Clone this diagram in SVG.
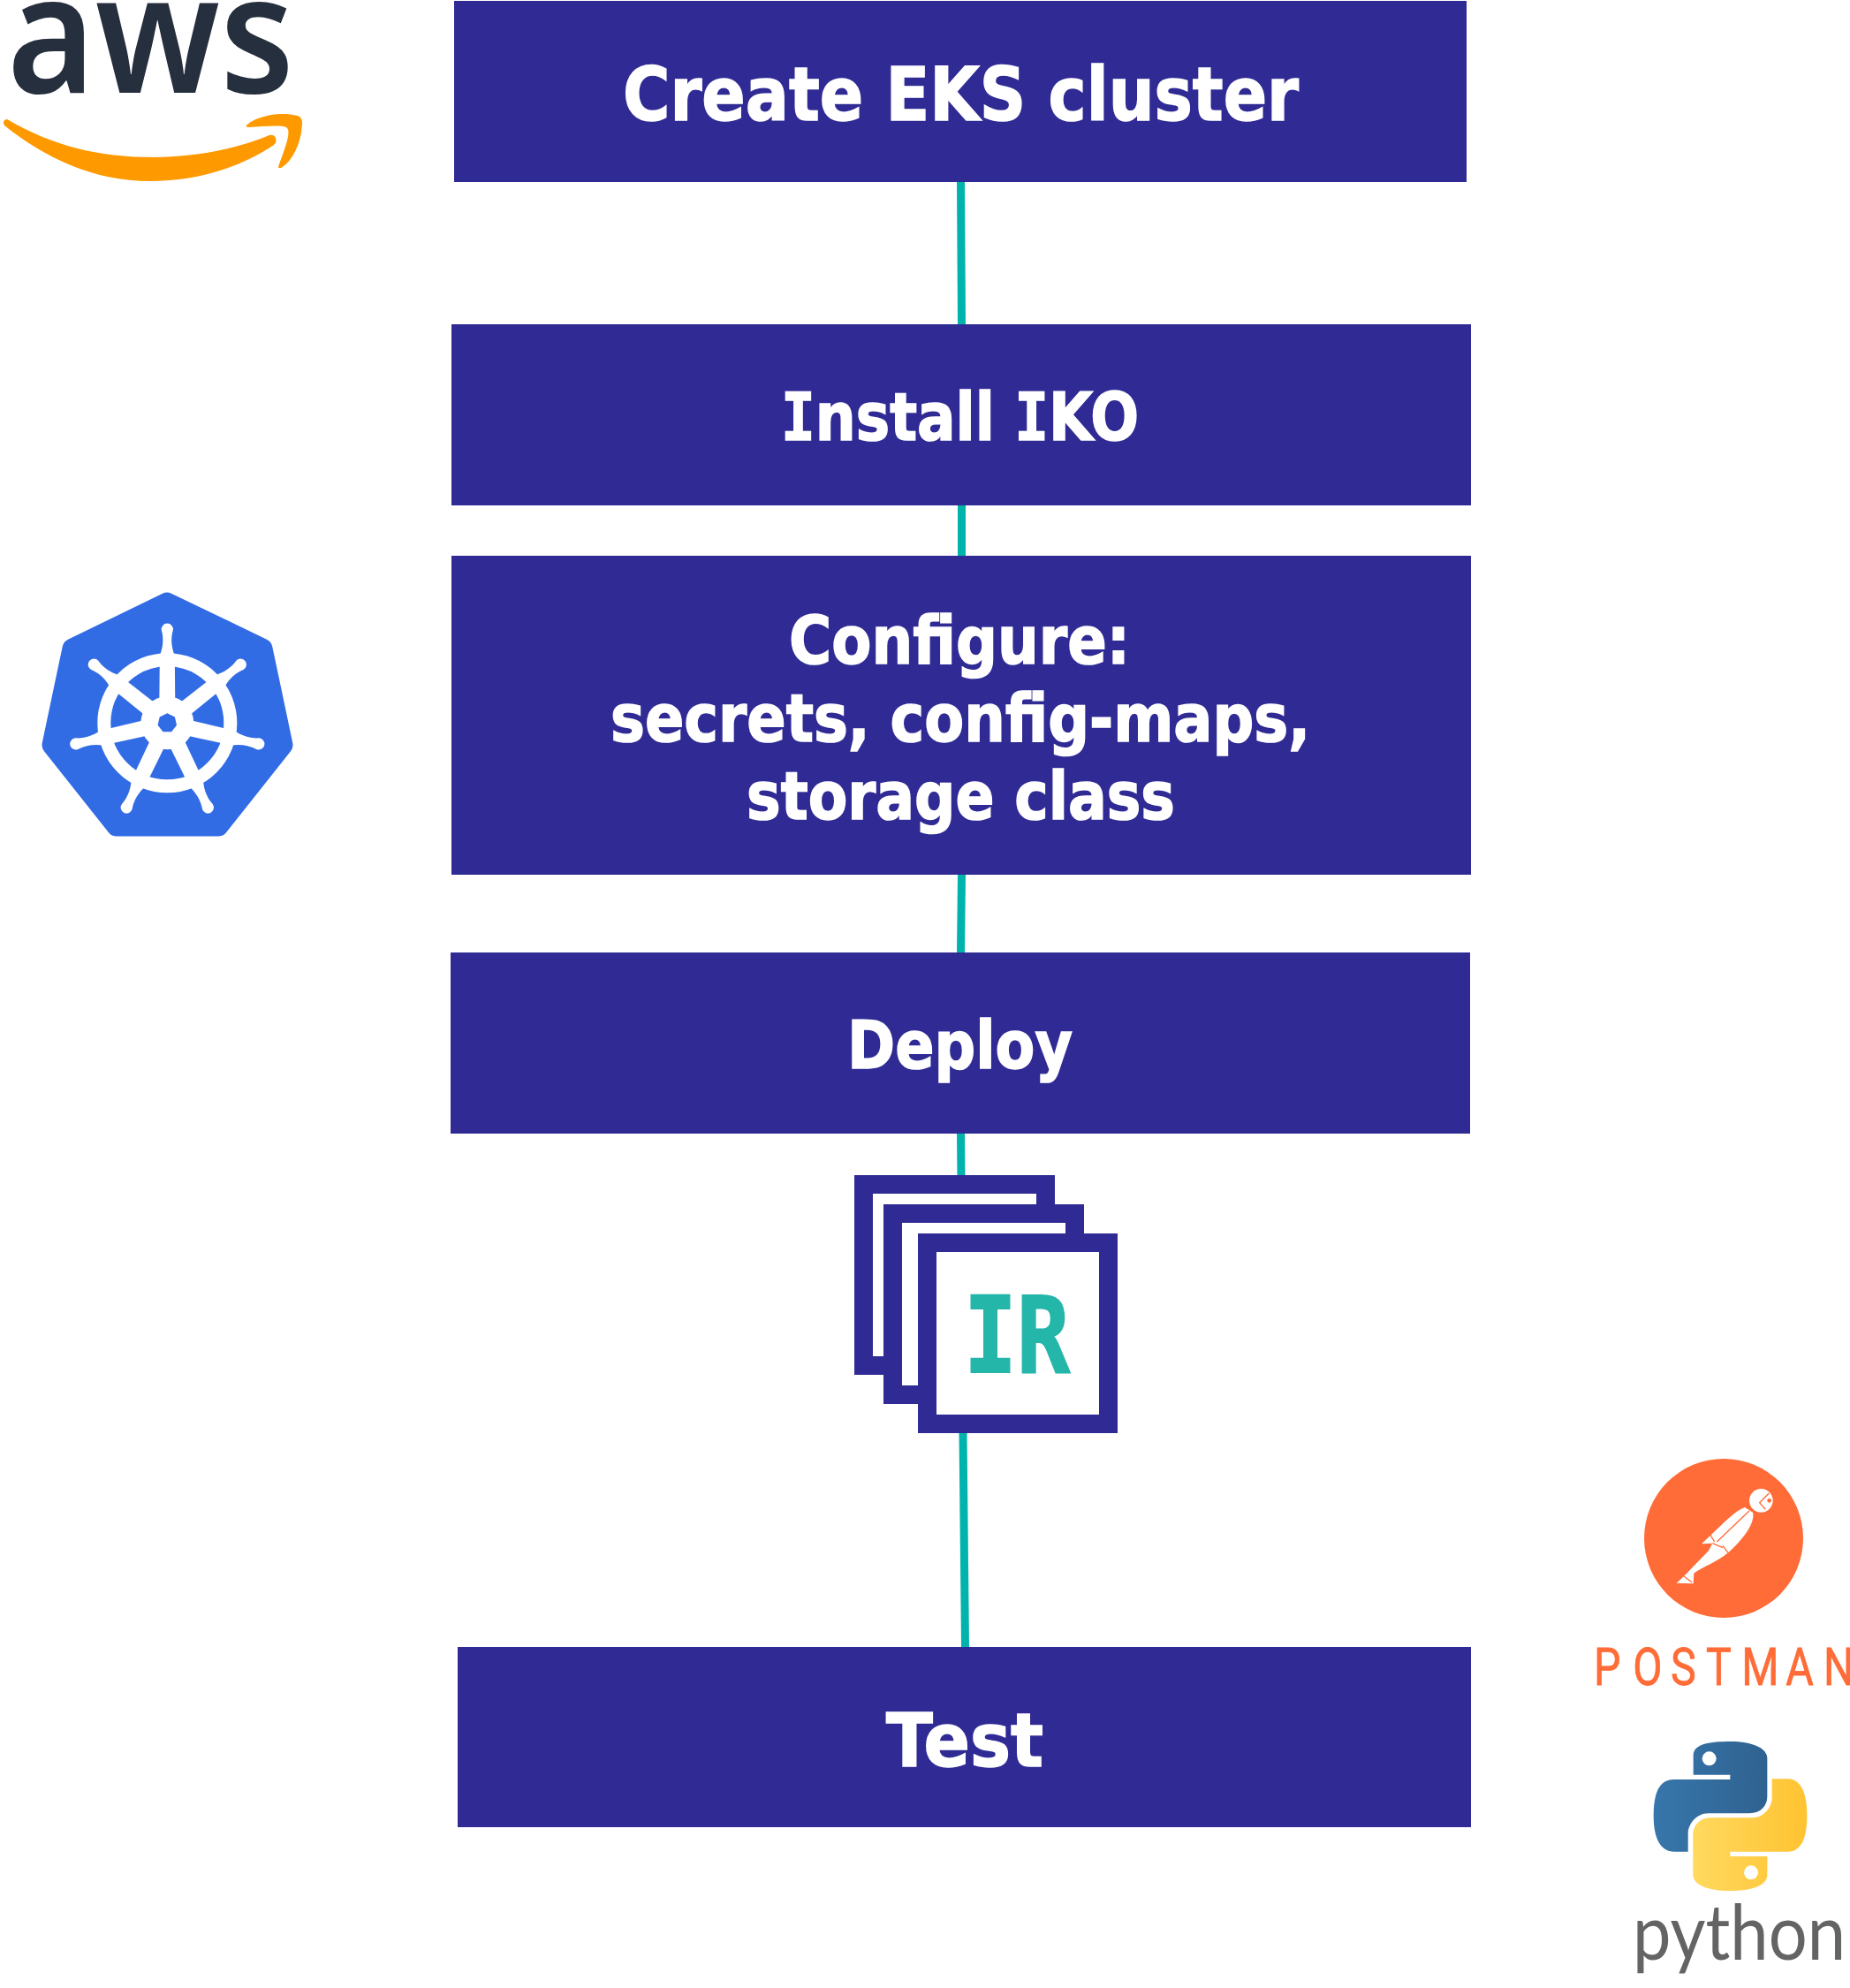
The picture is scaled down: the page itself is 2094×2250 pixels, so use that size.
<svg xmlns="http://www.w3.org/2000/svg" width="2094" height="2250" viewBox="0 0 2094 2250">
<style>
.box{fill:#302B94}
.t{font-family:"DejaVu Sans",Verdana,sans-serif;font-weight:700;fill:#fff;stroke:#fff;stroke-width:1.6}
.m{font-family:"DejaVu Sans Mono",monospace;font-weight:700}
.conn{stroke:#00B4AD;stroke-width:9;fill:none}
.ir{fill:#fff;stroke:#302B94;stroke-width:21}
</style>
<defs>
<linearGradient id="pb" gradientUnits="userSpaceOnUse" x1="155" y1="0" x2="541" y2="0"><stop offset="0" stop-color="#3776AB"/><stop offset="1" stop-color="#2F6290"/></linearGradient>
<linearGradient id="py" gradientUnits="userSpaceOnUse" x1="289" y1="0" x2="676" y2="0"><stop offset="0" stop-color="#FFD95F"/><stop offset="1" stop-color="#FFC331"/></linearGradient>
<g id="spoke" fill="#fff"><path d="M-9,-20L-8.5,-74L8.5,-74L9,-20Z"/><path d="M-8.5,-76C-5,-85-3.5,-95-6.5,-105A6.6,6.6 0 1 1 6.5,-105C3.5,-95 5,-85 8.5,-76Z"/></g>
</defs>
<rect width="2094" height="2250" fill="#fff"/>
<g id="connectors">
<path class="conn" d="M1087.5,206L1088.5,367"/>
<path class="conn" d="M1088.5,572L1088.5,629"/>
<path class="conn" d="M1088.5,990L1087.5,1078"/>
<path class="conn" d="M1087.5,1283L1088,1335"/>
<path class="conn" d="M1090,1622L1092.5,1864"/>
</g>
<g id="node-create"><rect class="box" x="514" y="1" width="1146" height="205"/><text class="t" x="705" y="136" font-size="84" textLength="765" lengthAdjust="spacingAndGlyphs">Create EKS cluster</text></g>
<g id="node-install"><rect class="box" x="511" y="367" width="1154" height="205"/><text class="t" x="884" y="498" font-size="74" textLength="405" lengthAdjust="spacingAndGlyphs"><tspan class="m">I</tspan>nstall <tspan class="m">I</tspan>KO</text></g>
<g id="node-configure"><rect class="box" x="511" y="629" width="1154" height="361"/>
<text class="t" x="893" y="751" font-size="74" textLength="386" lengthAdjust="spacingAndGlyphs">Configure:</text>
<text class="t" x="691" y="839" font-size="74" textLength="792" lengthAdjust="spacingAndGlyphs">secrets, config-maps,</text>
<text class="t" x="845" y="927" font-size="74" textLength="485" lengthAdjust="spacingAndGlyphs">storage class</text></g>
<g id="node-deploy"><rect class="box" x="510" y="1078" width="1154" height="205"/><text class="t" x="959" y="1209" font-size="74" textLength="255" lengthAdjust="spacingAndGlyphs">Deploy</text></g>
<g id="node-ir">
<rect class="ir" x="977.5" y="1340.5" width="206" height="205"/>
<rect class="ir" x="1010.5" y="1373.5" width="206" height="205"/>
<rect class="ir" x="1049.5" y="1406.5" width="205" height="205"/>
<text x="1091" y="1553" font-family="'DejaVu Sans Mono',monospace" font-weight="700" font-size="120" fill="#25B6AA" stroke="#25B6AA" stroke-width="2" textLength="120" lengthAdjust="spacingAndGlyphs">IR</text>
</g>
<g id="node-test"><rect class="box" x="518" y="1864" width="1147" height="204"/><text class="t" x="1003" y="1999" font-size="84" textLength="178" lengthAdjust="spacingAndGlyphs">Test</text></g>
<g id="logo-aws">
<text x="8" y="105" font-family="'Noto Sans',sans-serif" font-weight="600" font-size="186" fill="#252F3E" textLength="325" lengthAdjust="spacingAndGlyphs">aws</text>
<path fill="#FF9900" d="M8,135C60,165 110,178 175,178C215,178 265,170 305,153C312,151 315,160 310,164C270,191 220,205 170,205C105,205 50,178 5,142C3,139 4,135 8,135Z"/>
<path fill="#FF9900" d="M280,141C288,133 315,125 337,131C344,134 342,140 341,150C338,168 328,185 318,190C314,191 315,188 316,186C321,172 330,150 325,145C322,141 300,143 282,144C278,144 278,142 280,141Z"/>
</g>
<g id="logo-kubernetes">
<polygon points="189,682 297,734 320,843 247,935 132,935 59,843 82,734" fill="#326CE5" stroke="#326CE5" stroke-width="23" stroke-linejoin="round"/>
<g transform="translate(189.3,818.3)">
<circle r="71.5" fill="none" stroke="#fff" stroke-width="15"/>
<circle r="30" fill="#fff"/>
<use href="#spoke"/><use href="#spoke" transform="rotate(51.43)"/><use href="#spoke" transform="rotate(102.86)"/><use href="#spoke" transform="rotate(154.29)"/><use href="#spoke" transform="rotate(205.71)"/><use href="#spoke" transform="rotate(257.14)"/><use href="#spoke" transform="rotate(308.57)"/>
<polygon points="0,-11 8.6,-6.9 10.7,2.4 4.8,9.9 -4.8,9.9 -10.7,2.4 -8.6,-6.9" fill="#326CE5"/>
</g></g>
<g id="logo-postman">
<circle cx="1951" cy="1741" r="90" fill="#FF6C37"/>
<g transform="translate(1780,1630) scale(.33333)">
<circle cx="640" cy="205" r="40" fill="#fff"/>
<path d="M667,180L635,212L655,235" fill="none" stroke="#FF6C37" stroke-width="4"/>
<circle cx="668" cy="205" r="7" fill="#FF6C37"/>
<path fill="#fff" d="M585,228L612,245C622,285 570,345 528,382C490,415 440,430 412,452L410,487L353,485L378,462L462,375L475,350L438,352L470,322C510,285 550,240 585,228Z"/>
<path fill="none" stroke="#FF6C37" stroke-width="4" d="M600,240L490,345M468,322L482,345M475,350L510,365M510,358L528,382M378,462L405,482"/>
</g>
<text transform="translate(1804,1907) scale(.82,1)" x="0 54 106 155 204 265 317" y="0" font-family="Roboto,sans-serif" font-size="59" fill="#FF6C37" stroke="#FF6C37" stroke-width=".8">POSTMAN</text>
</g>
<g id="logo-python">
<g transform="translate(1820,1940) scale(.33333)">
<path fill="url(#pb)" d="M415,93C350,93 290,100 290,140L290,206L415,206L415,222L225,222C175,222 155,265 155,345C155,425 180,467 225,467L272,467L272,405C272,375 300,337 340,337L480,337C520,337 541,310 541,280L541,150C541,115 490,93 415,93Z"/>
<circle cx="344" cy="151" r="24" fill="#fff"/>
<path fill="url(#py)" d="M415,600C480,600 541,585 541,545L541,483L415,483L415,467L610,467C655,467 676,425 676,345C676,265 655,220 610,220L557,220L557,285C557,315 530,352 490,352L350,352C310,352 289,380 289,410L289,545C289,580 340,600 415,600Z"/>
<circle cx="486" cy="538" r="24" fill="#fff"/>
</g>
<text x="1848" y="2218" font-family="Lato,sans-serif" font-size="88" fill="#646464" textLength="241" lengthAdjust="spacingAndGlyphs">python</text>
</g>
</svg>
